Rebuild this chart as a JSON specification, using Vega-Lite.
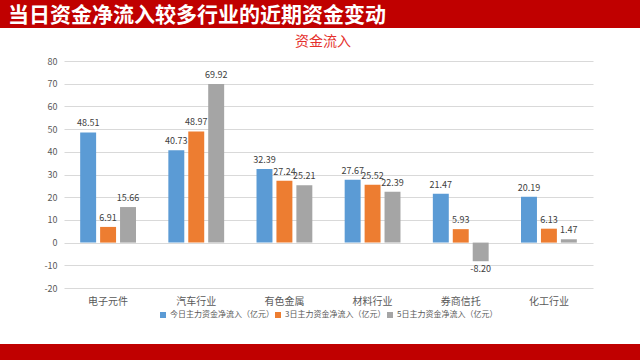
{
  "$schema": "https://vega.github.io/schema/vega-lite/v6.json",
  "padding": 0,
  "background": "white",
  "config": {
    "font": "Noto Sans CJK SC",
    "view": {"stroke": null},
    "locale": {
      "number": {"decimal": ".", "thousands": ",", "grouping": [3], "currency": ["", ""], "minus": "-"}
    }
  },
  "spacing": 7,
  "resolve": {"legend": {"color": "independent"}},
  "vconcat": [
    {
      "width": 640,
      "height": 28,
      "view": {"fill": "#C00000", "stroke": null},
      "title": {
        "text": "当日资金净流入较多行业的近期资金变动",
        "anchor": "start",
        "dx": 8,
        "offset": -26,
        "fontSize": 21,
        "fontWeight": "bold",
        "color": "white",
        "font": "Noto Sans CJK SC"
      },
      "data": {"values": [{"t": ""}]},
      "mark": {"type": "text"},
      "encoding": {"text": {"field": "t"}}
    },
    {
      "spacing": 25,
      "resolve": {"legend": {"color": "independent"}},
      "vconcat": [
        {
          "width": 640,
          "height": 227,
          "title": {
            "text": "资金流入",
            "fontSize": 14,
            "fontWeight": "normal",
            "color": "#E5302C",
            "offset": 8,
            "anchor": "middle",
            "dx": 3
          },
          "data": {
            "values": [
              {"industry": "电子元件", "series": "今日主力资金净流入（亿元）", "value": 48.51},
              {"industry": "电子元件", "series": "3日主力资金净流入（亿元）", "value": 6.91},
              {"industry": "电子元件", "series": "5日主力资金净流入（亿元）", "value": 15.66},
              {"industry": "汽车行业", "series": "今日主力资金净流入（亿元）", "value": 40.73},
              {"industry": "汽车行业", "series": "3日主力资金净流入（亿元）", "value": 48.97},
              {"industry": "汽车行业", "series": "5日主力资金净流入（亿元）", "value": 69.92},
              {"industry": "有色金属", "series": "今日主力资金净流入（亿元）", "value": 32.39},
              {"industry": "有色金属", "series": "3日主力资金净流入（亿元）", "value": 27.24},
              {"industry": "有色金属", "series": "5日主力资金净流入（亿元）", "value": 25.21},
              {"industry": "材料行业", "series": "今日主力资金净流入（亿元）", "value": 27.67},
              {"industry": "材料行业", "series": "3日主力资金净流入（亿元）", "value": 25.52},
              {"industry": "材料行业", "series": "5日主力资金净流入（亿元）", "value": 22.39},
              {"industry": "券商信托", "series": "今日主力资金净流入（亿元）", "value": 21.47},
              {"industry": "券商信托", "series": "3日主力资金净流入（亿元）", "value": 5.93},
              {"industry": "券商信托", "series": "5日主力资金净流入（亿元）", "value": -8.2},
              {"industry": "化工行业", "series": "今日主力资金净流入（亿元）", "value": 20.19},
              {"industry": "化工行业", "series": "3日主力资金净流入（亿元）", "value": 6.13},
              {"industry": "化工行业", "series": "5日主力资金净流入（亿元）", "value": 1.47}
            ]
          },
          "encoding": {
            "x": {
              "field": "industry",
              "type": "nominal",
              "sort": null,
              "scale": {"range": [64, 593], "paddingInner": 0.367, "paddingOuter": 0.1835},
              "axis": {
                "title": null,
                "labelAngle": 0,
                "ticks": false,
                "domain": false,
                "labelPadding": 8,
                "labelFontSize": 10,
                "labelColor": "#595959"
              }
            },
            "xOffset": {
              "field": "series",
              "sort": ["今日主力资金净流入（亿元）", "3日主力资金净流入（亿元）", "5日主力资金净流入（亿元）"],
              "scale": {"paddingInner": 0.2}
            },
            "y": {
              "field": "value",
              "type": "quantitative",
              "scale": {"domain": [-20, 80], "nice": false, "zero": true},
              "axis": {
                "title": null,
                "values": [-20, -10, 0, 10, 20, 30, 40, 50, 60, 70, 80],
                "ticks": false,
                "domain": false,
                "offset": -64,
                "labelPadding": 7,
                "labelFontSize": 9,
                "labelColor": "#595959",
                "gridColor": "#D9D9D9"
              }
            }
          },
          "layer": [
            {
              "mark": {"type": "bar"},
              "encoding": {
                "color": {
                  "field": "series",
                  "type": "nominal",
                  "sort": ["今日主力资金净流入（亿元）", "3日主力资金净流入（亿元）", "5日主力资金净流入（亿元）"],
                  "scale": {
                    "domain": ["今日主力资金净流入（亿元）", "3日主力资金净流入（亿元）", "5日主力资金净流入（亿元）"],
                    "range": ["#5B9BD5", "#ED7D31", "#A5A5A5"]
                  },
                  "legend": {
                    "title": null,
                    "orient": "none",
                    "direction": "horizontal",
                    "legendX": 159,
                    "legendY": 250,
                    "symbolType": "square",
                    "symbolSize": 36,
                    "labelFontSize": 8,
                    "labelColor": "#595959",
                    "labelOffset": 3,
                    "columnPadding": 0,
                    "padding": 0
                  }
                }
              }
            },
            {
              "transform": [{"filter": "datum.value >= 0"}],
              "mark": {"type": "text", "baseline": "bottom", "dy": -4, "fontSize": 9, "color": "#404040"},
              "encoding": {"text": {"field": "value", "type": "quantitative", "format": ".2f"}}
            },
            {
              "transform": [{"filter": "datum.value < 0"}],
              "mark": {"type": "text", "baseline": "top", "dy": 4, "fontSize": 9, "color": "#404040"},
              "encoding": {"text": {"field": "value", "type": "quantitative", "format": ".2f"}}
            }
          ]
        },
        {
          "width": 640,
          "height": 30,
          "view": {"fill": "#C00000", "stroke": null},
          "data": {"values": [{"t": ""}]},
          "mark": {"type": "text"},
          "encoding": {"text": {"field": "t"}}
        }
      ]
    }
  ]
}
